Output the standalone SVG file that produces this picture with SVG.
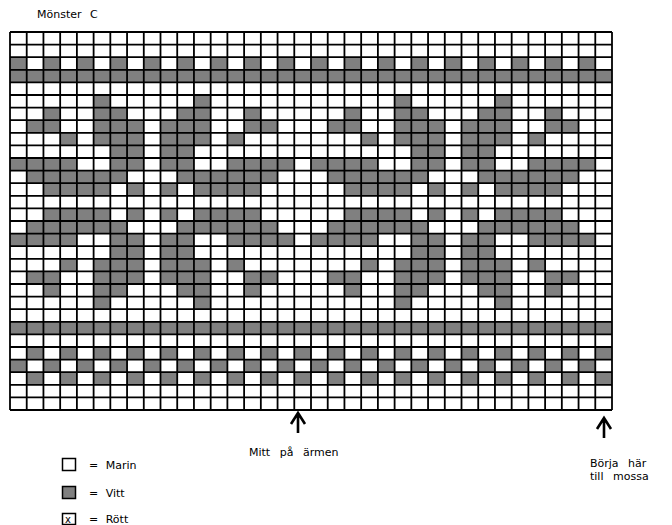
<svg xmlns="http://www.w3.org/2000/svg" xmlns:xlink="http://www.w3.org/1999/xlink" width="672" height="525" viewBox="0 0 672 525">
<style>
.t{font-family:"DejaVu Sans","Liberation Sans",sans-serif;font-size:11px;fill:#000}
.g{fill:#808080}
.grid{fill:none;stroke:#000;stroke-width:1.8}
.arr{fill:none;stroke:#000;stroke-width:2.6;stroke-linecap:butt}
.box{stroke:#000;stroke-width:1.5}
</style>
<defs>
<g id="tile" class="g">
<rect x="0" y="2" width="1" height="1"/><rect x="2" y="2" width="1" height="1"/><rect x="4" y="2" width="1" height="1"/><rect x="6" y="2" width="1" height="1"/><rect x="8" y="2" width="1" height="1"/><rect x="10" y="2" width="1" height="1"/><rect x="12" y="2" width="1" height="1"/><rect x="14" y="2" width="1" height="1"/><rect x="16" y="2" width="1" height="1"/>
<rect x="0" y="3" width="18" height="1"/>
<g id="star">
<rect x="5" y="5" width="1" height="1"/><rect x="11" y="5" width="1" height="1"/>
<rect x="2" y="6" width="1" height="1"/><rect x="5" y="6" width="2" height="1"/><rect x="10" y="6" width="2" height="1"/><rect x="14" y="6" width="1" height="1"/>
<rect x="1" y="7" width="2" height="1"/><rect x="5" y="7" width="3" height="1"/><rect x="9" y="7" width="3" height="1"/><rect x="14" y="7" width="2" height="1"/>
<rect x="3" y="8" width="1" height="1"/><rect x="5" y="8" width="3" height="1"/><rect x="9" y="8" width="3" height="1"/><rect x="13" y="8" width="1" height="1"/>
<rect x="6" y="9" width="2" height="1"/><rect x="9" y="9" width="2" height="1"/>
<rect x="0" y="10" width="4" height="1"/><rect x="6" y="10" width="2" height="1"/><rect x="9" y="10" width="2" height="1"/><rect x="13" y="10" width="4" height="1"/>
<rect x="1" y="11" width="6" height="1"/><rect x="10" y="11" width="6" height="1"/>
<rect x="2" y="12" width="4" height="1"/><rect x="7" y="12" width="1" height="1"/><rect x="9" y="12" width="1" height="1"/><rect x="11" y="12" width="4" height="1"/>
</g>
<use xlink:href="#star" transform="matrix(1,0,0,-1,0,27)"/>
<rect x="0" y="23" width="18" height="1"/>
<rect x="1" y="25" width="1" height="1"/><rect x="3" y="25" width="1" height="1"/><rect x="5" y="25" width="1" height="1"/><rect x="7" y="25" width="1" height="1"/><rect x="9" y="25" width="1" height="1"/><rect x="11" y="25" width="1" height="1"/><rect x="13" y="25" width="1" height="1"/><rect x="15" y="25" width="1" height="1"/><rect x="17" y="25" width="1" height="1"/>
<rect x="0" y="26" width="1" height="1"/><rect x="2" y="26" width="1" height="1"/><rect x="4" y="26" width="1" height="1"/><rect x="6" y="26" width="1" height="1"/><rect x="8" y="26" width="1" height="1"/><rect x="10" y="26" width="1" height="1"/><rect x="12" y="26" width="1" height="1"/><rect x="14" y="26" width="1" height="1"/><rect x="16" y="26" width="1" height="1"/>
<rect x="1" y="27" width="1" height="1"/><rect x="3" y="27" width="1" height="1"/><rect x="5" y="27" width="1" height="1"/><rect x="7" y="27" width="1" height="1"/><rect x="9" y="27" width="1" height="1"/><rect x="11" y="27" width="1" height="1"/><rect x="13" y="27" width="1" height="1"/><rect x="15" y="27" width="1" height="1"/><rect x="17" y="27" width="1" height="1"/>
</g>
</defs>
<rect width="672" height="525" fill="#fff"/>
<text id="title" class="t" x="37" y="18" style="word-spacing:5px">Mönster C</text>
<g id="chart">
<rect x="10" y="32" width="602" height="378" fill="#fff"/>
<use xlink:href="#tile" transform="translate(10,32) scale(16.7222,12.6)"/>
<use xlink:href="#tile" transform="translate(311,32) scale(16.7222,12.6)"/>
<path class="grid" d="M10,32V410M26.72,32V410M43.44,32V410M60.17,32V410M76.89,32V410M93.61,32V410M110.33,32V410M127.06,32V410M143.78,32V410M160.5,32V410M177.22,32V410M193.94,32V410M210.67,32V410M227.39,32V410M244.11,32V410M260.83,32V410M277.56,32V410M294.28,32V410M311,32V410M327.72,32V410M344.44,32V410M361.17,32V410M377.89,32V410M394.61,32V410M411.33,32V410M428.06,32V410M444.78,32V410M461.5,32V410M478.22,32V410M494.94,32V410M511.67,32V410M528.39,32V410M545.11,32V410M561.83,32V410M578.56,32V410M595.28,32V410M612,32V410
M10,32H612M10,44.6H612M10,57.2H612M10,69.8H612M10,82.4H612M10,95H612M10,107.6H612M10,120.2H612M10,132.8H612M10,145.4H612M10,158H612M10,170.6H612M10,183.2H612M10,195.8H612M10,208.4H612M10,221H612M10,233.6H612M10,246.2H612M10,258.8H612M10,271.4H612M10,284H612M10,296.6H612M10,309.2H612M10,321.8H612M10,334.4H612M10,347H612M10,359.6H612M10,372.2H612M10,384.8H612M10,397.4H612M10,410H612"/>
</g>
<g id="connectors">
<path class="arr" d="M298,433V414M291,424L298,413L305,424"/>
<path class="arr" d="M604,438V419M597,429L604,418L611,429"/>
</g>
<g id="label-mitt"><text class="t" x="249" y="456" style="word-spacing:6px">Mitt på ärmen</text></g>
<g id="label-borja"><text class="t" x="590" y="467" style="word-spacing:6px">Börja här</text><text class="t" x="590" y="480" style="word-spacing:6px">till mossa</text></g>
<g id="legend">
<g id="leg-marin"><rect class="box" x="62.5" y="458.5" width="13" height="12" fill="#fff"/><text class="t" x="89" y="469" style="word-spacing:4px">= Marin</text></g>
<g id="leg-vitt"><rect class="box" x="62.5" y="486.5" width="13" height="12" fill="#808080"/><text class="t" x="89" y="497" style="word-spacing:4px">= Vitt</text></g>
<g id="leg-rott"><rect class="box" x="62.5" y="513.5" width="13" height="11" fill="#fff"/><text class="t" x="65" y="523" style="font-size:10px">x</text><text class="t" x="89" y="523" style="word-spacing:4px">= Rött</text></g>
</g>
</svg>
